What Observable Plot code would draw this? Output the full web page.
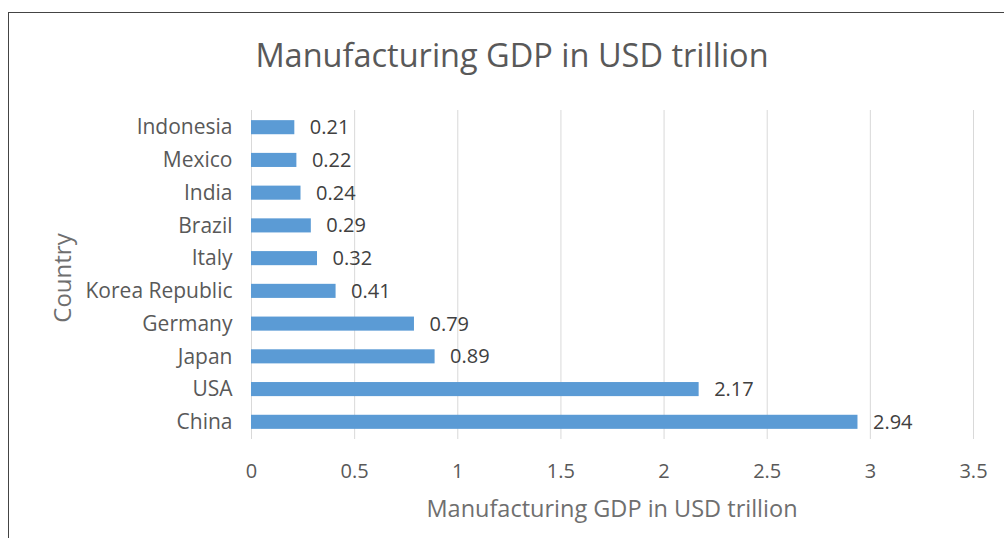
<!DOCTYPE html>
<html>
<head>
<meta charset="utf-8">
<script src="https://cdn.jsdelivr.net/npm/d3@7"></script>
<script src="https://cdn.jsdelivr.net/npm/@observablehq/plot@0.6"></script>
<style>
  html, body { margin: 0; padding: 0; background: #fff; }
  #wrap { position: relative; width: 1004px; height: 538px; overflow: hidden; font-family: "Open Sans", sans-serif; }
  #frame { position: absolute; left: 8px; top: 12px; width: 1100px; height: 600px; border-left: 1.5px solid #444; border-top: 1.5px solid #444; box-sizing: border-box; }
  #title { position: absolute; left: 0; width: 1024px; top: 39px; text-align: center; font-size: 32.5px; color: #595959; line-height: 1; }
  #xlabel { position: absolute; left: 0; width: 1224px; top: 497px; text-align: center; font-size: 23.5px; color: #6f6f6f; line-height: 1; }
  #ylabel { position: absolute; left: 62px; top: 278px; transform: translate(-50%, -50%) rotate(-90deg); font-size: 24px; color: #6f6f6f; line-height: 1; white-space: nowrap; }
  #chart { position: absolute; left: 0; top: 0; }
</style>
</head>
<body>
<div id="wrap">
  <div id="frame"></div>
  <div id="chart"></div>
  <div id="title">Manufacturing GDP in USD trillion</div>
  <div id="xlabel">Manufacturing GDP in USD trillion</div>
  <div id="ylabel">Country</div>
</div>
<script>
const countries = ["Indonesia", "Mexico", "India", "Brazil", "Italy", "Korea Republic", "Germany", "Japan", "USA", "China"];
const values = [0.21, 0.22, 0.24, 0.29, 0.32, 0.41, 0.79, 0.89, 2.17, 2.94];
const xTicks = [0, 0.5, 1, 1.5, 2, 2.5, 3, 3.5];

const data = countries.map((c, i) => ({country: c, value: values[i]}));

const chart = Plot.plot({
  width: 1004,
  height: 538,
  marginLeft: 251,
  marginRight: 31,
  marginTop: 110,
  marginBottom: 99,
  style: {fontFamily: "Open Sans, sans-serif", background: "transparent", overflow: "visible"},
  x: {domain: [0, 3.5], ticks: xTicks},
  y: {domain: countries, paddingInner: 0.57, paddingOuter: 0.31, round: false},
  marks: [
    Plot.gridX(xTicks, {stroke: "#d9d9d9", strokeOpacity: 1, strokeWidth: 1}),
    Plot.barX(data, {x: "value", y: "country", fill: "#5B9BD5"}),
    Plot.text(data, {x: "value", y: "country", text: d => d.value.toFixed(2), textAnchor: "start", dx: 15, fontSize: 20, fill: "#404040"}),
    Plot.axisX(xTicks, {tickSize: 0, tickPadding: 24, fontSize: 20, fill: "#595959", label: null, tickFormat: d => String(d)}),
    Plot.axisY({tickSize: 0, tickPadding: 19, fontSize: 21, fill: "#595959", label: null})
  ]
});
document.getElementById("chart").appendChild(chart);
</script>
</body>
</html>
